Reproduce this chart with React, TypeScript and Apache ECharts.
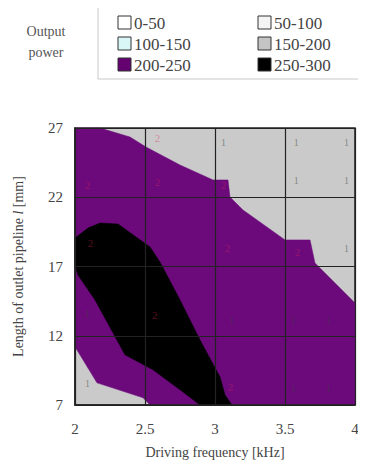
import React, { useEffect, useRef } from "react";
import * as echarts from "echarts";

const xTicks = [2, 2.5, 3, 3.5, 4];
const yTicks = [7, 12, 17, 22, 27];

// 200-250 region (purple) polygon, in data coordinates [kHz, mm]
const purpleRegion: number[][] = [
  [2, 27], [2.179, 27], [2.393, 26.35], [2.507, 25.63], [2.75, 24.33],
  [2.986, 23.25], [3.093, 23.25], [3.107, 22.02], [3.2, 21.08], [3.5, 18.92],
  [3.679, 18.92], [3.714, 17.26], [4, 14.37], [4, 7], [2.536, 7],
  [2.486, 7.52], [2.157, 8.6], [2, 11.2],
];

// 250-300 region (black)
const blackRegion: number[][] = [
  [2, 19.06], [2.093, 19.78], [2.179, 20.14], [2.307, 20.07], [2.536, 18.41],
  [2.607, 17.33], [2.75, 14.59], [2.893, 11.7], [3.036, 9.03], [3.071, 7.74],
  [3.121, 7], [2.893, 7], [2.75, 8.1], [2.557, 9.54], [2.357, 10.62],
  [2.143, 14.59], [2.021, 16.39], [2, 17.12],
];

// contour labels
const labelsOne: number[][] = [
  [3.06, 26.0], [3.58, 26.0], [3.94, 26.0], [3.58, 23.25], [3.94, 23.25],
  [3.94, 18.3], [2.09, 13.65], [3.12, 13.15], [3.56, 13.15], [3.81, 13.15],
  [3.56, 8.24], [3.81, 8.24], [2.09, 8.6],
];
const labelsTwo: number[][] = [
  [2.59, 26.3], [2.09, 22.9], [2.59, 23.1], [3.06, 22.9], [3.09, 18.3],
  [3.59, 18.05], [2.11, 18.7], [2.57, 13.5], [3.11, 8.3],
];

const legendItems = [
  { label: "0-50", color: "#ffffff" },
  { label: "50-100", color: "#f4f4f4" },
  { label: "100-150", color: "#d9f7f7" },
  { label: "150-200", color: "#c4c4c4" },
  { label: "200-250", color: "#650070" },
  { label: "250-300", color: "#000000" },
];

const PURPLE = "#6c0a7c";
const GRAY = "#cacaca";
const FONT = "Liberation Serif";

function polySeries(poly: number[][], color: string, z: number) {
  return {
    type: "custom",
    coordinateSystem: "cartesian2d",
    z,
    silent: true,
    data: [[poly[0][0], poly[0][1]]],
    renderItem: (params: any, api: any) => {
      const pts = poly.map((p) => api.coord(p));
      return {
        type: "polygon",
        shape: { points: pts },
        style: { fill: color, stroke: color, lineWidth: 0.5 },
      };
    },
  };
}

export default function App() {
  const ref = useRef<HTMLDivElement>(null);
  useEffect(() => {
    if (!ref.current) return;
    const chart = echarts.init(ref.current, undefined, { renderer: "svg" });
    const legendGraphics: any[] = [];
    legendItems.forEach((it, i) => {
      const col = i % 2;
      const row = Math.floor(i / 2);
      const x = col === 0 ? 118 : 258;
      const y = 16 + row * 21;
      legendGraphics.push({
        type: "rect",
        shape: { x, y, width: 13, height: 13 },
        style: { fill: it.color, stroke: "#333", lineWidth: 1 },
      });
      legendGraphics.push({
        type: "text",
        x: x + 16,
        y: y + 7,
        style: {
          text: it.label,
          fill: "#444",
          font: `17px ${FONT}`,
          verticalAlign: "middle",
        },
      });
    });
    chart.setOption({
      animation: false,
      backgroundColor: "#ffffff",
      textStyle: { fontFamily: FONT },
      graphic: [
        {
          type: "rect",
          shape: { x: 98, y: 3, width: 280, height: 76 },
          style: { fill: "none", stroke: "#c8c8c8", lineWidth: 1 },
        },
        {
          type: "text",
          x: 46,
          y: 31,
          style: { text: "Output", fill: "#555", font: `14px ${FONT}`, align: "center", verticalAlign: "middle" },
        },
        {
          type: "text",
          x: 46,
          y: 52,
          style: { text: "power", fill: "#555", font: `14px ${FONT}`, align: "center", verticalAlign: "middle" },
        },
        ...legendGraphics,
      ],
      grid: {
        left: 75,
        top: 128,
        width: 280,
        height: 277,
        show: true,
        backgroundColor: GRAY,
        borderColor: "#222",
        borderWidth: 1.5,
      },
      xAxis: {
        type: "value",
        min: 2,
        max: 4,
        interval: 0.5,
        z: 5,
        name: "Driving frequency [kHz]",
        nameLocation: "middle",
        nameGap: 40,
        nameTextStyle: { color: "#444", fontSize: 14, fontFamily: FONT },
        axisLine: { show: true, lineStyle: { color: "#222", width: 1.5 } },
        axisTick: { show: false },
        splitLine: { show: true, lineStyle: { color: "#222", width: 1.2 } },
        axisLabel: {
          color: "#444",
          fontSize: 15,
          fontFamily: FONT,
          margin: 16,
          formatter: (v: number) => (xTicks.includes(v) ? String(v) : ""),
        },
      },
      yAxis: {
        type: "value",
        min: 7,
        max: 27,
        interval: 5,
        z: 5,
        name: "Length of outlet pipeline {i|l} [mm]",
        nameLocation: "middle",
        nameGap: 50,
        nameRotate: 90,
        nameTextStyle: {
          color: "#444",
          fontSize: 14,
          fontFamily: FONT,
          rich: { i: { fontStyle: "italic", fontSize: 14, fontFamily: FONT, color: "#444" } },
        },
        axisLine: { show: true, lineStyle: { color: "#222", width: 1.5 } },
        axisTick: { show: false },
        splitLine: { show: true, lineStyle: { color: "#222", width: 1.2 } },
        axisLabel: {
          color: "#444",
          fontSize: 15,
          fontFamily: FONT,
          margin: 12,
          formatter: (v: number) => (yTicks.includes(v) ? String(v) : ""),
        },
      },
      series: [
        polySeries(purpleRegion, PURPLE, 2),
        polySeries(blackRegion, "#000000", 3),
        {
          type: "scatter",
          z: 6,
          silent: true,
          symbolSize: 0,
          data: labelsOne,
          label: {
            show: true,
            position: "inside",
            formatter: "1",
            color: "rgba(60,60,60,0.6)",
            fontSize: 11,
            fontFamily: FONT,
          },
        },
        {
          type: "scatter",
          z: 6,
          silent: true,
          symbolSize: 0,
          data: labelsTwo,
          label: {
            show: true,
            position: "inside",
            formatter: "2",
            color: "rgba(220,40,80,0.5)",
            fontSize: 11,
            fontFamily: FONT,
          },
        },
      ],
    });
    return () => chart.dispose();
  }, []);
  return (
    <div
      ref={ref}
      style={{ width: 366, height: 465, marginTop: -8, marginLeft: -8 }}
    />
  );
}
